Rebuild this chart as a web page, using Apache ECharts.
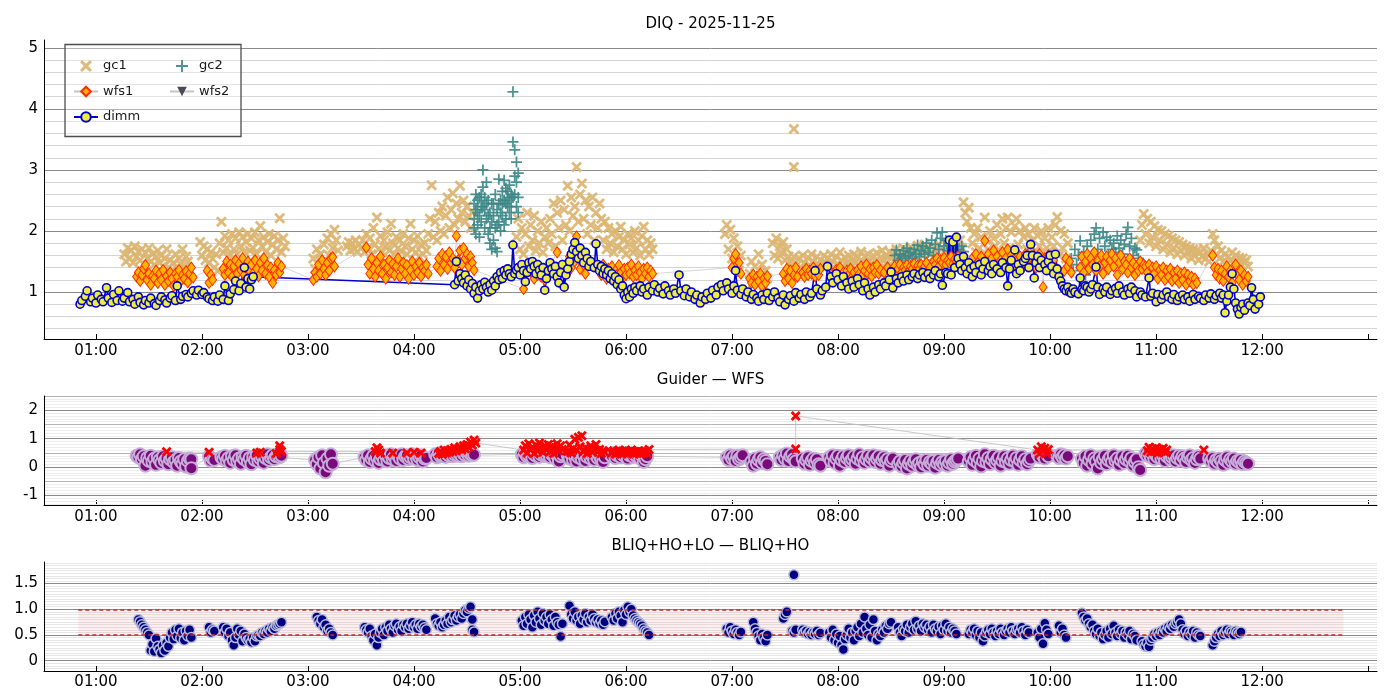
<!DOCTYPE html>
<html>
<head>
<meta charset="utf-8">
<title>DIQ - 2025-11-25</title>
<script src="https://cdn.jsdelivr.net/npm/echarts@6.0.0/dist/echarts.min.js"></script>
<style>
  html, body { margin: 0; padding: 0; background: #fff; }
  #chart { width: 1400px; height: 700px; }
</style>
</head>
<body>
<div id="chart"></div>
<script>
// Times are minutes after 00:00 UT.

var X_MIN = 30.6, X_MAX = 785;
var HOUR_TICKS = [60, 120, 180, 240, 300, 360, 420, 480, 540, 600, 660, 720, 780];
var HOUR_LABELS = [60, 120, 180, 240, 300, 360, 420, 480, 540, 600, 660, 720];

var DIQ_RANGE = [0.23, 5.13];
var GUIDE_RANGE = [-1.33, 2.5];
var BLIQ_RANGE = [-0.2, 1.92];
var BLIQ_BAND = [0.5, 1.0];
var BAND_SPAN = [50, 766];

var TITLES = ['DIQ - 2025-11-25', 'Guider \u2014 WFS', 'BLIQ+HO+LO \u2014 BLIQ+HO'];

var dimm = [
  [51,0.80],[52,0.86],[54,0.93],[55,1.02],[57,0.84],[58,0.90],[60,0.82],[61,0.95],[63,0.88],[64,0.84],
  [66,1.07],[67,0.90],[69,0.83],[70,0.96],[72,0.86],[73,1.02],[75,0.85],[76,0.90],[78,0.99],[79,0.84],
  [81,0.88],[82,0.80],[84,0.92],[85,0.83],[87,0.79],[88,0.86],[90,0.82],[91,0.90],[93,0.81],[94,0.78],
  [96,0.86],[97,0.92],[99,0.87],[100,0.82],[102,0.90],[103,0.94],[105,0.86],[106,1.10],[108,0.88],[109,0.93],
  [111,0.96],[112,0.92],[114,0.98],[115,1.02],[117,0.95],[118,1.03],[120,0.96],[121,0.99],[123,0.92],[124,0.89],
  [126,0.86],[127,0.92],[129,0.85],[130,0.95],[132,0.88],[133,1.10],[135,0.86],[136,0.97],[138,1.04],[139,1.18],
  [141,1.02],[142,1.14],[144,1.40],[145,1.08],[146,1.22],[147,1.05],[148,1.20],[149,1.25],
  [263,1.12],[264,1.50],[265,1.18],[266,1.30],[267,1.22],[268,1.15],[269,1.28],[270,1.10],[271,1.20],[272,1.05],
  [273,1.14],[274,0.98],[275,1.08],[276,0.90],[277,1.02],[278,1.12],[279,1.05],[280,1.16],[281,1.08],[282,1.00],
  [283,1.12],[284,1.03],[285,1.18],[286,1.10],[287,1.25],[288,1.20],[289,1.32],[290,1.22],[291,1.35],[292,1.28],
  [293,1.38],[294,1.30],[295,1.25],[296,1.77],[297,1.30],[298,1.36],[299,1.40],[300,1.28],[301,1.45],[302,1.35],
  [303,1.17],[304,1.32],[305,1.48],[306,1.38],[307,1.50],[308,1.42],[309,1.30],[310,1.45],[311,1.36],[312,1.28],
  [313,1.40],[314,1.03],[315,1.22],[316,1.35],[317,1.48],[318,1.38],[319,1.30],[320,1.42],[321,1.25],[322,1.15],
  [323,1.32],[324,1.45],[325,1.08],[326,1.28],[327,1.38],[328,1.50],[329,1.62],[330,1.70],[331,1.81],[332,1.66],
  [333,1.55],[334,1.72],[335,1.60],[336,1.48],[337,1.65],[338,1.55],[339,1.42],[340,1.50],[342,1.40],[343,1.79],
  [344,1.45],[345,1.35],[346,1.42],[347,1.30],[348,1.38],[349,1.28],[350,1.35],[351,1.22],[352,1.30],[353,1.18],
  [354,1.25],[355,1.12],[356,1.20],[357,1.05],[358,1.10],[359,0.95],[360,0.89],[361,1.00],[362,0.92],[363,1.05],
  [364,0.98],[365,1.08],[366,1.02],[368,1.10],[369,1.00],[370,1.05],[372,0.95],[373,1.08],[375,1.02],[376,1.12],
  [378,1.00],[379,1.06],[381,0.97],[382,1.10],[384,1.02],[385,0.95],[387,1.05],[388,0.98],[390,1.28],[391,1.02],
  [393,0.94],[394,1.05],[396,0.92],[397,1.00],[399,0.88],[400,0.95],[402,0.82],[403,0.92],[405,0.88],[406,0.98],
  [408,0.90],[409,1.03],[411,0.95],[412,1.08],[414,1.12],[415,1.02],[417,1.15],[418,1.05],[420,0.98],[421,1.10],
  [422,1.35],[423,1.03],[425,0.96],[426,1.05],[428,0.92],[429,1.00],[431,0.88],[432,0.96],[434,0.90],[435,0.85],
  [437,0.95],[438,0.88],[440,0.98],[441,0.86],[443,0.92],[444,1.00],[446,0.90],[447,0.84],[449,0.95],[450,0.79],
  [452,0.88],[453,0.94],[455,0.85],[456,0.99],[458,0.90],[459,0.96],[461,0.88],[462,1.00],[464,0.92],[465,0.98],
  [467,1.35],[468,1.05],[470,0.95],[471,1.02],[473,1.08],[474,1.42],[476,1.25],[477,1.15],[479,1.30],[480,1.20],
  [482,1.10],[483,1.25],[485,1.15],[486,1.05],[488,1.18],[489,1.08],[491,1.22],[492,1.12],[494,1.02],[495,1.15],
  [497,1.05],[498,0.95],[500,1.08],[501,1.00],[503,1.12],[504,1.05],[506,1.15],[507,1.10],[509,1.20],[510,1.33],
  [511,1.07],[513,1.22],[514,1.15],[516,1.25],[517,1.18],[519,1.28],[520,1.20],[522,1.25],[523,1.30],[525,1.22],
  [526,1.28],[528,1.32],[529,1.24],[531,1.30],[532,1.22],[534,1.28],[535,1.35],[537,1.25],[538,1.30],[539,1.11],
  [541,1.32],[542,1.30],[543,1.85],[544,1.28],[545,1.82],[546,1.40],[547,1.90],[548,1.55],[549,1.45],[550,1.35],
  [551,1.58],[552,1.40],[553,1.30],[554,1.48],[555,1.38],[556,1.25],[557,1.42],[558,1.32],[560,1.45],[561,1.28],
  [562,1.38],[563,1.50],[565,1.35],[566,1.42],[567,1.30],[568,1.45],[570,1.38],[572,1.32],[573,1.48],[575,1.40],
  [576,1.10],[577,1.38],[578,1.52],[580,1.69],[581,1.30],[582,1.45],[583,1.35],[585,1.50],[586,1.55],[587,1.60],
  [588,1.40],[589,1.78],[590,1.60],[591,1.23],[592,1.48],[593,1.58],[594,1.40],[595,1.52],[597,1.45],[598,1.35],
  [599,1.50],[600,1.60],[601,1.42],[602,1.30],[603,1.62],[604,1.38],[605,1.25],[606,1.18],[607,1.10],[608,1.05],
  [609,1.02],[610,1.08],[611,1.00],[612,0.98],[613,1.05],[614,1.00],[616,0.97],[617,1.23],[618,1.04],[619,1.02],
  [620,1.10],[621,1.08],[622,1.00],[623,1.05],[624,1.12],[626,1.41],[627,1.08],[628,0.96],[630,1.05],[631,1.00],
  [632,1.08],[634,0.96],[635,1.02],[637,1.06],[638,0.98],[639,1.10],[641,1.00],[642,0.95],[644,1.05],[645,0.98],
  [646,1.08],[648,1.02],[649,0.92],[651,1.00],[652,0.95],[654,0.92],[656,1.23],[657,0.93],[658,0.98],[660,0.84],
  [661,0.96],[663,0.88],[664,0.95],[666,1.00],[667,0.92],[669,0.88],[670,0.96],[672,0.86],[673,0.92],[675,0.95],
  [676,0.88],[678,0.92],[679,0.85],[681,0.96],[682,0.88],[684,0.93],[685,0.90],[687,0.86],[688,0.95],[690,0.90],
  [691,0.97],[693,0.88],[694,0.94],[696,0.98],[697,0.90],[698,0.95],[699,0.66],[700,0.85],[701,0.95],[702,1.08],
  [703,1.30],[704,1.05],[705,0.82],[706,0.72],[707,0.64],[708,0.75],[709,0.80],[710,0.70],[712,0.82],[713,0.78],
  [714,1.07],[715,0.88],[716,0.72],[718,0.80],[719,0.92]
];

var gc1 = [
  [76,1.62],[77,1.50],[78,1.72],[79,1.55],[80,1.68],[81,1.48],[82,1.75],[83,1.58],[84,1.66],[85,1.52],
  [86,1.70],[87,1.46],[88,1.64],[89,1.55],[90,1.72],[91,1.50],[92,1.62],[93,1.45],[94,1.58],[95,1.68],
  [96,1.48],[97,1.60],[98,1.42],[99,1.55],[100,1.70],[101,1.40],[102,1.52],[103,1.35],[104,1.48],[105,1.62],
  [106,1.38],[107,1.55],[108,1.45],[109,1.70],[110,1.40],[111,1.58],[112,1.50],
  [119,1.82],[120,1.60],[121,1.75],[122,1.52],[123,1.70],[124,1.48],[125,1.65],[126,1.55],[127,1.40],[128,1.62],
  [129,1.35],[130,1.80],[131,2.15],[132,1.65],[133,1.92],[134,1.72],[135,1.85],[136,1.60],[137,1.95],[138,1.70],
  [139,1.88],[140,1.62],[141,1.98],[142,1.75],[143,1.90],[144,1.65],[145,1.82],[146,1.95],[147,1.68],[148,1.88],
  [149,1.72],[150,1.98],[151,1.62],[152,1.85],[153,2.08],[154,1.75],[155,1.90],[156,1.65],[157,1.82],[158,1.95],
  [159,1.60],[160,1.78],[161,1.92],[162,1.70],[163,1.85],[164,2.21],[165,1.65],[166,1.88],[167,1.75],
  [183,1.55],[184,1.38],[185,1.70],[186,1.45],[187,1.62],[188,1.32],[189,1.78],[190,1.50],[191,1.88],[192,1.60],
  [193,1.95],[194,1.72],[195,2.02],[196,1.85],[197,1.68],
  [202,1.75],[203,1.82],[204,1.68],[205,1.80],[206,1.70],[207,1.85],[208,1.66],[209,1.78],[210,1.72],
  [211,1.85],[212,1.65],[213,1.95],[214,1.72],[215,1.88],[216,1.62],[217,2.05],[218,1.78],[219,2.22],[220,1.70],
  [221,1.92],[222,1.65],[223,1.85],[224,1.75],[225,1.98],[226,1.68],[227,2.12],[228,1.80],[229,1.62],[230,1.90],
  [231,1.72],[232,1.85],[233,1.66],[234,1.95],[235,1.75],[236,1.62],[237,1.88],[238,2.12],[239,1.70],[240,1.85],
  [241,1.65],[242,1.92],[243,1.58],[244,1.78],[245,1.62],[246,1.80],[247,1.68],
  [248,1.95],[249,2.20],[250,2.75],[251,1.90],[252,2.15],[253,1.85],[254,2.30],[255,2.00],[256,2.40],[257,1.95],
  [258,2.25],[259,2.55],[260,2.05],[261,2.35],[262,2.62],[263,2.10],[264,2.45],[265,2.20],[266,2.74],[267,2.30],
  [268,2.50],[269,2.15],[270,2.40],[271,2.25],[272,2.05],[273,2.30],
  [298,1.90],[299,2.20],[300,1.70],[301,2.05],[302,1.62],[303,1.95],[304,2.30],[305,1.75],[306,2.10],[307,1.85],
  [308,2.25],[309,1.68],[310,2.00],[311,1.80],[312,2.15],[313,1.65],[314,1.90],[315,2.05],
  [316,1.80],[317,2.20],[318,1.95],[319,2.45],[320,1.75],[321,2.30],[322,2.05],[323,2.50],[324,1.85],[325,2.35],
  [326,2.10],[327,2.74],[328,2.00],[329,2.55],[330,2.25],[331,2.40],[332,3.05],[333,2.15],[334,2.60],[335,2.78],
  [336,2.20],[337,2.50],[338,1.95],[339,2.40],[340,2.10],[341,2.55],[342,1.85],[343,2.30],[344,2.05],[345,2.45],
  [346,2.20],[347,1.85],[348,2.15],[349,1.70],[350,2.05],[351,1.80],[352,1.95],[353,1.65],[354,2.00],[355,1.75],
  [356,1.90],[357,2.07],[358,1.70],[359,1.85],[360,1.62],[361,1.95],[362,1.78],[363,1.88],[364,1.65],[365,2.00],
  [366,1.72],[367,1.85],[368,1.60],[369,1.92],[370,2.07],[371,1.70],[372,1.85],[373,1.62],[374,1.80],[375,1.70],
  [416,1.95],[417,2.10],[418,1.70],[419,2.02],[420,1.55],[421,1.88],[422,1.45],[423,1.75],[424,1.35],[425,1.60],
  [430,1.30],[431,1.50],[432,1.15],[433,1.42],[434,1.25],[435,1.62],[436,1.20],[437,1.45],[438,1.10],[439,1.35],
  [440,1.22],[443,1.80],[444,1.60],[445,1.88],[446,1.55],[447,1.75],[448,1.65],[449,1.82],[450,1.52],[451,1.70],
  [452,1.58],[453,1.50],[454,1.42],[455,1.58],[455,3.67],[455,3.05],[457,1.45],[458,1.55],[459,1.40],[460,1.60],
  [461,1.48],[462,1.38],[463,1.56],[464,1.44],[465,1.62],[466,1.50],[467,1.40],[468,1.58],[469,1.46],[470,1.52],
  [471,1.42],[472,1.60],[473,1.48],[474,1.55],[475,1.44],[476,1.62],[477,1.50],[478,1.40],[479,1.58],[480,1.46],
  [481,1.65],[482,1.52],[483,1.42],[484,1.56],[485,1.48],[486,1.60],[487,1.45],[488,1.52],[489,1.62],[490,1.48],
  [491,1.56],[492,1.44],[493,1.66],[494,1.50],[495,1.58],[496,1.46],[497,1.62],[498,1.52],[499,1.45],[500,1.60],
  [501,1.50],[502,1.64],[503,1.48],[504,1.56],[505,1.68],[506,1.52],[507,1.60],[508,1.50],[509,1.66],[510,1.55],
  [511,1.62],[512,1.52],[513,1.70],[514,1.58],[515,1.64],[516,1.54],[517,1.72],[518,1.60],[519,1.66],[520,1.56],
  [521,1.74],[522,1.62],[523,1.68],[524,1.58],[525,1.76],[526,1.64],[527,1.70],[528,1.60],[529,1.78],[530,1.66],
  [531,1.72],[532,1.62],[533,1.75],[534,1.58],[535,1.70],[536,1.64],[537,1.78],[538,1.60],[539,1.72],[540,1.66],
  [541,1.80],[542,1.62],[543,1.74],[544,1.68],[545,1.82],[546,1.65],[547,1.76],[548,1.70],[549,1.85],[550,1.72],
  [551,2.47],[552,2.30],[553,2.15],[554,2.38],[555,2.05],
  [556,1.80],[557,1.95],[558,1.65],[559,2.05],[560,1.72],[561,1.90],[562,1.60],[563,2.22],[564,1.85],[565,1.70],
  [566,2.00],[567,1.62],[568,1.88],[569,1.75],[570,2.10],[571,1.68],[572,1.95],[573,2.20],[574,1.80],[575,2.05],
  [576,2.22],[577,1.72],[578,1.98],[579,1.65],[580,2.08],[581,2.20],[582,1.78],[583,2.00],[584,1.62],[585,1.90],
  [586,2.05],[587,1.70],[588,1.95],[589,1.60],[590,1.85],[591,2.05],[592,1.68],[593,1.92],[594,1.75],[595,2.00],
  [596,1.62],[597,1.88],[598,1.72],[599,2.05],[600,1.65],[601,1.90],
  [602,1.75],[603,2.10],[604,2.23],[605,1.60],[606,2.00],[607,1.72],[608,1.95],[609,1.55],[610,1.80],
  [651,1.85],[652,2.10],[653,2.28],[654,1.95],[655,2.20],[656,1.80],[657,2.15],[658,1.90],[659,2.08],[660,1.75],
  [661,2.02],[662,1.85],[663,2.00],[664,1.70],[665,1.95],[666,1.78],[667,1.92],[668,1.65],[669,1.88],[670,1.72],
  [671,1.85],[672,1.62],[673,1.82],[674,1.68],[675,1.78],[676,1.60],[677,1.75],[678,1.65],[679,1.72],[680,1.55],
  [681,1.70],[682,1.60],[683,1.68],[684,1.52],[685,1.65],[686,1.58],[687,1.72],[688,1.55],[689,1.62],[690,1.50],
  [691,1.68],[692,1.95],[693,1.85],[694,1.62],[695,1.75],[696,1.55],[697,1.68],[698,1.50],[699,1.62],[700,1.48],
  [701,1.58],[702,1.52],[703,1.65],[704,1.45],[705,1.60],[706,1.50],[707,1.56],[708,1.45],[709,1.55],[710,1.48],
  [711,1.52],[712,1.42]
];

var gc2 = [
  [274,2.20],[274,2.45],[274,2.05],[275,1.95],[275,2.60],[275,2.35],[276,2.30],[276,2.10],[276,2.50],
  [277,2.55],[277,1.90],[277,2.25],[278,2.40],[278,2.15],[278,2.60],[279,3.00],[279,2.72],[279,2.40],
  [280,2.35],[280,2.05],[280,2.55],[281,2.80],[281,2.20],[281,2.45],[282,2.50],[282,1.95],[282,2.25],
  [283,2.30],[283,1.80],[283,2.05],[284,2.45],[284,1.70],[284,2.15],[285,2.25],[285,1.85],[285,2.45],
  [286,2.60],[286,1.72],[286,2.05],[287,2.35],[287,1.66],[287,2.10],[288,2.85],[288,2.15],[288,2.45],
  [289,2.50],[289,2.00],[289,2.30],[290,2.65],[290,2.25],[290,2.45],[291,2.83],[291,2.10],[291,2.50],
  [292,2.70],[292,2.20],[292,2.45],[293,2.55],[293,2.40],[293,2.65],[294,2.75],[294,2.30],[294,2.50],
  [295,2.60],[295,2.40],[295,2.20],[296,3.46],[296,4.28],[296,2.55],[297,3.33],[297,2.60],[297,2.90],
  [298,3.13],[298,2.80],[298,2.40],[299,2.55],[299,2.95],[299,2.30],
  [512,1.60],[513,1.69],[514,1.52],[515,1.62],[516,1.55],[517,1.68],[518,1.58],[519,1.72],[520,1.60],[521,1.65],
  [522,1.55],[523,1.70],[524,1.62],[525,1.77],[526,1.58],[527,1.68],[528,1.75],[529,1.62],[530,1.80],[531,1.65],
  [532,1.72],[533,1.85],[534,1.60],[535,1.78],[536,1.97],[537,1.70],[538,1.88],[539,1.98],[540,1.75],[541,1.85],
  [542,1.68],[543,1.80],[544,1.72],[545,1.62],[546,1.78],[547,1.65],[548,1.70],[549,1.60],[550,1.75],[551,1.66],
  [612,1.55],[613,1.35],[614,1.70],[615,1.45],[616,1.60],[617,1.84],[618,1.40],[619,1.65],[620,1.28],[621,1.75],
  [622,1.50],[623,1.85],[624,1.62],[625,1.95],[626,2.05],[627,1.70],[628,1.88],[629,1.55],[630,1.98],[631,1.75],
  [632,1.90],[633,1.60],[634,1.85],[635,1.70],[636,1.80],[637,1.65],[638,1.92],[639,1.72],[640,1.85],[641,1.62],
  [642,1.78],[643,1.95],[644,2.06],[645,1.75],[646,1.88],[647,1.60],[648,1.72],[649,1.69],[650,1.55]
];

var wfs1 = [
  [83,1.25],[84,1.32],[85,1.18],[86,1.28],[87,1.38],[88,1.44],[89,1.20],[90,1.30],[91,1.12],[92,1.26],
  [93,1.22],[94,1.35],[95,1.15],[96,1.30],[97,1.20],[98,1.36],[99,1.12],[100,1.26],[101,1.18],[102,1.32],
  [103,1.22],[104,1.10],[105,1.30],[106,1.25],[107,1.36],[108,1.18],[109,1.28],[110,1.22],[111,1.34],[112,1.16],
  [113,1.30],[114,1.40],[115,1.24],
  [123,1.35],[124,1.15],[125,1.28],[126,1.20],
  [132,1.38],[133,1.28],[134,1.50],[135,1.32],[136,1.45],[137,1.25],[138,1.42],[139,1.52],[140,1.30],[141,1.46],
  [142,1.36],[143,1.55],[144,1.28],[145,1.40],[146,1.50],[147,1.34],[148,1.45],[149,1.30],[150,1.52],[151,1.38],
  [152,1.26],[153,1.48],[154,1.35],[155,1.55],[156,1.30],[157,1.44],[158,1.25],[159,1.40],[160,1.15],[161,1.36],
  [162,1.28],[163,1.48],[164,1.32],[165,1.42],
  [183,1.20],[184,1.32],[185,1.25],[186,1.45],[187,1.30],[188,1.52],[189,1.38],[190,1.28],[191,1.48],[192,1.35],
  [193,1.55],[194,1.57],[195,1.42],
  [213,1.73],[214,1.45],[215,1.30],[216,1.55],[217,1.38],[218,1.25],[219,1.48],[220,1.35],[221,1.58],[222,1.30],
  [223,1.45],[224,1.22],[225,1.40],[226,1.52],[227,1.32],[228,1.46],[229,1.28],[230,1.42],[231,1.55],[232,1.25],
  [233,1.38],[234,1.48],[235,1.30],[236,1.44],[237,1.22],[238,1.36],[239,1.50],[240,1.28],[241,1.42],[242,1.32],
  [243,1.48],[244,1.26],[245,1.40],[246,1.35],[247,1.45],[248,1.30],
  [253,1.42],[254,1.55],[255,1.35],[256,1.62],[257,1.45],[258,1.58],[259,1.38],[260,1.65],[261,1.48],[262,1.55],
  [263,1.40],[264,1.92],[265,1.52],[266,1.68],[267,1.45],[268,1.72],[269,1.55],[270,1.62],[271,1.42],[272,1.58],
  [273,1.48],[274,1.36],
  [302,1.05],[307,1.30],[308,1.22],[309,1.38],[310,1.28],[311,1.40],[312,1.25],[313,1.35],[314,1.20],[315,1.32],
  [321,1.65],[326,1.45],[327,1.32],[328,1.58],[329,1.40],[330,1.68],[331,1.50],[332,1.91],[333,1.55],[334,1.38],
  [335,1.62],[336,1.45],[337,1.30],[338,1.52],
  [345,1.40],[346,1.28],[347,1.45],[348,1.32],[349,1.22],[350,1.38],[351,1.30],[352,1.42],[353,1.25],[354,1.35],
  [355,1.28],[356,1.44],[357,1.32],[358,1.22],[359,1.38],[360,1.28],[361,1.40],[362,1.30],[363,1.45],[364,1.25],
  [365,1.36],[366,1.28],[367,1.42],[368,1.32],[369,1.22],[370,1.38],[371,1.30],[372,1.40],[373,1.25],[374,1.35],
  [375,1.30],
  [420,1.40],[421,1.55],[422,1.62],[423,1.35],[424,1.48],[425,1.30],
  [430,1.22],[431,1.15],[432,1.28],[433,1.12],[434,1.25],[435,1.18],[436,1.30],[437,1.10],[438,1.22],[439,1.15],
  [440,1.26],
  [449,1.30],[450,1.18],[451,1.38],[452,1.22],[453,1.35],[454,1.15],[455,1.28],[456,1.40],[457,1.25],
  [460,1.32],[461,1.25],[462,1.38],[463,1.28],[464,1.35],[465,1.30],[466,1.40],[467,1.26],[468,1.34],[469,1.28],
  [470,1.38],[477,1.30],[478,1.22],[479,1.36],[480,1.26],[481,1.40],[482,1.24],[483,1.32],[484,1.20],[485,1.35],
  [486,1.28],[487,1.38],[488,1.25],[489,1.32],[490,1.22],[491,1.36],[492,1.30],[493,1.42],[494,1.28],[495,1.35],
  [496,1.45],[497,1.30],[498,1.38],[499,1.26],[500,1.40],[501,1.32],[502,1.44],[503,1.30],[504,1.36],[506,1.32],
  [508,1.40],[510,1.35],[512,1.42],[513,1.30],[514,1.38],[515,1.45],[516,1.32],[517,1.40],[518,1.36],[519,1.44],
  [520,1.34],[521,1.42],[522,1.38],[523,1.46],[524,1.35],[525,1.43],[526,1.38],[527,1.45],[528,1.36],[529,1.42],
  [530,1.48],[532,1.40],[534,1.50],[535,1.45],[536,1.55],[537,1.42],[538,1.52],[539,1.48],[540,1.56],[541,1.45],
  [542,1.52],[543,1.48],[544,1.58],[545,1.46],[546,1.54],[547,1.50],[548,1.58],[549,1.48],[550,1.55],[551,1.50],
  [555,1.45],[556,1.55],[557,1.40],[558,1.62],[559,1.48],[560,1.38],[561,1.58],[562,1.45],[563,1.84],[564,1.52],
  [565,1.62],[566,1.42],[567,1.55],[568,1.68],[569,1.45],[570,1.58],[571,1.38],[572,1.52],[573,1.65],[574,1.42],
  [575,1.56],[576,1.70],[577,1.48],[578,1.60],[579,1.40],[580,1.55],[581,1.65],[582,1.45],[583,1.58],[584,1.38],
  [585,1.52],[586,1.62],[587,1.42],[588,1.55],[589,1.68],[590,1.45],[591,1.58],[592,1.40],[593,1.52],[594,1.62],
  [595,1.45],[596,1.08],[597,1.55],[598,1.42],[599,1.60],[600,1.48],[601,1.38],[602,1.52],
  [608,1.35],[609,1.55],[610,1.42],[611,1.50],[612,1.32],
  [617,1.40],[618,1.58],[619,1.32],[620,1.50],[621,1.62],[622,1.38],[623,1.55],[624,1.45],[625,1.65],[626,1.35],
  [627,1.52],[628,1.42],[629,1.60],[630,1.30],[631,1.48],[632,1.58],[633,1.38],[634,1.52],[635,1.62],[636,1.42],
  [637,1.55],[638,1.28],[639,1.48],[640,1.60],[641,1.38],[642,1.50],[643,1.45],[644,1.32],[645,1.55],[646,1.40],
  [647,1.48],[648,1.28],[649,1.42],[650,1.35],[651,1.50],[652,1.38],[653,1.45],
  [654,1.42],[655,1.32],[656,1.45],[657,1.25],[658,1.40],[659,1.30],[660,1.42],[661,1.22],[662,1.36],[663,1.28],
  [664,1.40],[665,1.20],[666,1.35],[667,1.25],[668,1.38],[669,1.18],[670,1.32],[671,1.22],[672,1.35],[673,1.15],
  [674,1.30],[675,1.20],[676,1.32],[677,1.12],[678,1.28],[679,1.18],[680,1.25],[681,1.12],[682,1.22],[683,1.15],
  [692,1.60],[693,1.40],[694,1.28],[695,1.38],[696,1.22],[697,1.35],[698,1.18],[699,1.30],[700,1.42],[701,1.25],
  [702,1.35],[703,1.15],[704,1.32],[705,1.45],[706,1.28],[707,1.20],[708,1.35],[709,1.12],[710,1.28],[711,1.18],
  [712,1.25]
];

var wfs2 = [];

var guider = [
  [83,0.40],[84,0.35],[85,0.45],[86,0.28],[87,0.38],[88,0.05],[89,0.32],[90,0.22],[91,0.40],[92,0.18],
  [93,0.30],[94,0.08],[95,0.35],[96,0.25],[97,0.15],[98,0.38],[99,0.22],[100,0.30],[101,0.10],[102,0.28],
  [103,0.35],[104,0.18],[105,0.25],[106,0.05],[107,0.32],[108,0.20],[109,0.12],[110,0.28],[111,0.02],[112,0.22],
  [113,0.30],[114,0.28],[114,-0.04],
  [124,0.38],[125,0.22],[126,0.30],[127,0.25],
  [131,0.35],[132,0.28],[133,0.40],[134,0.22],[135,0.32],[136,0.15],[137,0.38],[138,0.25],[139,0.42],[140,0.20],
  [141,0.30],[142,0.12],[143,0.35],[144,0.28],[145,0.40],[146,0.18],[147,0.32],[148,0.10],[149,0.36],[150,0.25],
  [151,0.42],[152,0.20],[153,0.30],[154,0.38],[155,0.15],[156,0.32],[157,0.45],[158,0.25],[159,0.35],[160,0.42],
  [161,0.28],[162,0.38],[163,0.45],[164,0.35],[165,0.40],
  [184,0.25],[185,0.10],[186,0.35],[187,-0.05],[188,0.42],[189,0.15],[190,-0.18],[191,0.30],[192,0.05],[193,0.45],
  [194,0.12],
  [212,0.35],[213,0.25],[214,0.42],[215,0.18],[216,0.30],[217,0.40],[218,0.22],[219,0.35],[220,0.15],[221,0.28],
  [222,0.38],[223,0.25],[224,0.42],[225,0.20],[226,0.32],[227,0.45],[228,0.28],[229,0.36],[230,0.22],[231,0.40],
  [232,0.30],[233,0.45],[234,0.25],[235,0.38],[236,0.42],[237,0.28],[238,0.35],[239,0.45],[240,0.30],[241,0.40],
  [242,0.25],[243,0.35],[244,0.42],[245,0.20],[246,0.30],[247,0.32],
  [252,0.45],[253,0.35],[254,0.48],[255,0.38],[256,0.42],[257,0.50],[258,0.36],[259,0.45],[260,0.40],[261,0.48],
  [262,0.38],[263,0.44],[264,0.50],[265,0.40],[266,0.46],[267,0.38],[268,0.48],[269,0.42],[270,0.50],[271,0.40],
  [272,0.46],[273,0.42],[274,0.44],
  [301,0.45],[302,0.35],[303,0.48],[304,0.38],[305,0.42],[306,0.50],[307,0.32],[308,0.45],[309,0.40],[310,0.48],
  [311,0.36],[312,0.44],[313,0.50],[314,0.38],[315,0.42],[316,0.48],[317,0.35],[318,0.45],[319,0.40],[320,0.30],
  [321,0.42],[322,0.20],[323,0.38],[324,0.45],
  [327,0.42],[328,0.30],[329,0.45],[330,0.25],[331,0.38],[332,0.20],[333,0.35],[334,0.42],[335,0.28],[336,0.40],
  [337,0.22],[338,0.36],[339,0.45],[340,0.30],[341,0.38],[342,0.25],[343,0.42],[344,0.32],[345,0.40],[346,0.28],
  [347,0.18],[348,0.35],
  [351,0.45],[352,0.38],[353,0.50],[354,0.32],[355,0.42],[356,0.48],[357,0.35],[358,0.45],[359,0.40],[360,0.50],
  [361,0.30],[362,0.42],[363,0.48],[364,0.36],[365,0.44],[366,0.38],[367,0.46],[368,0.30],[369,0.40],[370,0.18],
  [371,0.28],[372,0.38],
  [417,0.35],[418,0.25],[419,0.42],[420,0.30],[421,0.38],[422,0.22],[423,0.40],[424,0.28],[425,0.35],[426,0.42],
  [431,0.20],[432,0.05],[433,0.30],[434,0.12],[435,0.25],[436,0.35],[437,0.15],[438,0.28],[439,0.22],[440,0.10],
  [447,0.35],[448,0.25],[449,0.42],[450,0.30],[451,0.48],[452,0.22],[453,0.38],[454,0.45],[455,0.28],[456,0.20],
  [460,0.30],[461,0.12],[462,0.25],[463,0.35],[464,0.08],[465,0.22],[466,0.30],[467,0.15],[468,0.28],[469,0.10],
  [470,0.05],
  [475,0.35],[476,0.22],[477,0.42],[478,0.15],[479,0.30],[480,0.40],[481,0.05],[482,0.25],[483,0.38],[484,0.18],
  [485,0.32],[486,0.42],[487,0.20],[488,0.28],[489,0.38],[490,0.12],[491,0.30],[492,0.45],[493,0.22],[494,0.35],
  [495,0.15],[496,0.28],[497,0.40],[498,0.20],[499,0.32],[500,0.42],[501,0.18],[502,0.30],[503,0.38],[504,0.12],
  [505,0.25],[506,0.35],[507,0.20],[508,0.28],[509,0.05],[510,0.22],[511,0.30],
  [514,0.10],[515,0.20],[516,0.02],[517,0.15],[518,0.25],[519,-0.05],[520,0.12],[521,0.22],[522,0.05],[523,0.18],
  [524,0.28],[525,0.08],[526,0.15],[527,0.00],[528,0.20],[529,0.10],[530,0.25],[531,0.05],[532,0.18],[533,0.12],
  [534,0.22],[535,-0.02],[536,0.15],[537,0.25],[538,0.08],[539,0.18],[540,0.10],[541,0.22],[542,0.05],[543,0.15],
  [544,0.28],[545,0.12],[546,0.20],[547,0.25],[548,0.30],
  [554,0.20],[555,0.35],[556,0.08],[557,0.25],[558,0.40],[559,0.15],[560,0.30],[561,0.02],[562,0.22],[563,0.45],
  [564,0.18],[565,0.32],[566,0.10],[567,0.28],[568,0.40],[569,0.15],[570,0.25],[571,0.35],[572,0.05],[573,0.22],
  [574,0.38],[575,0.18],[576,0.30],[577,0.12],[578,0.25],[579,0.40],[580,0.20],[581,0.32],[582,0.08],[583,0.25],
  [584,0.38],[585,0.15],[586,0.28],[587,0.10],[588,0.22],[589,0.30],
  [593,0.45],[594,0.35],[595,0.52],[596,0.40],[597,0.30],[598,0.48],[599,0.38],
  [604,0.40],[605,0.32],[606,0.45],[607,0.35],[608,0.42],[609,0.30],[610,0.38],
  [618,0.30],[619,0.15],[620,0.38],[621,0.05],[622,0.25],[623,0.42],[624,0.12],[625,0.30],[626,0.20],[627,-0.05],
  [628,0.35],[629,0.15],[630,0.28],[631,0.40],[632,0.10],[633,0.25],[634,0.35],[635,0.18],[636,0.42],[637,0.22],
  [638,0.30],[639,0.08],[640,0.25],[641,0.38],[642,0.15],[643,0.28],[644,0.40],[645,0.20],[646,0.32],[647,0.05],
  [648,0.18],[649,0.28],[650,0.00],[651,-0.10],
  [654,0.48],[655,0.40],[656,0.50],[657,0.35],[658,0.45],[659,0.28],[660,0.42],[661,0.35],[662,0.48],[663,0.30],
  [664,0.40],[665,0.22],[666,0.38],[667,0.45],[668,0.28],[669,0.35],[670,0.42],[671,0.20],[672,0.32],[673,0.40],
  [674,0.25],[675,0.38],[676,0.30],[677,0.18],[678,0.35],[679,0.42],[680,0.25],[681,0.32],[682,0.15],[683,0.28],
  [684,0.38],[685,0.30],
  [690,0.30],[691,0.20],[692,0.32],[693,0.12],[694,0.25],[695,0.18],[696,0.30],[697,0.22],[698,0.08],[699,0.25],
  [700,0.35],[701,0.15],[702,0.28],[703,0.20],[704,0.30],[705,0.12],[706,0.22],[707,0.18],[708,0.25],[709,0.10],
  [710,0.20],[711,0.15],[712,0.12]
];

var wfs = [
  [100,0.54],[124,0.52],[151,0.50],[153,0.52],[162,0.48],[164,0.62],[164,0.75],[165,0.55],
  [218,0.55],[219,0.68],[220,0.60],[221,0.50],[228,0.50],[236,0.50],[240,0.52],[244,0.50],
  [254,0.48],[255,0.55],[256,0.45],[257,0.60],[258,0.50],[259,0.58],[260,0.52],[261,0.62],[262,0.55],[263,0.68],
  [264,0.58],[265,0.65],[266,0.72],[267,0.60],[268,0.75],[269,0.65],[270,0.80],[271,0.70],[272,0.88],[273,0.78],
  [274,0.95],[275,0.85],
  [302,0.60],[303,0.75],[304,0.50],[305,0.82],[306,0.62],[307,0.70],[308,0.48],[309,0.78],[310,0.58],[311,0.85],
  [312,0.65],[313,0.52],[314,0.75],[315,0.60],[316,0.80],[317,0.55],[318,0.72],[319,0.48],[320,0.68],[321,0.82],
  [322,0.58],[323,0.75],[324,0.62],
  [327,0.55],[328,0.78],[329,0.50],[330,0.65],[331,0.98],[332,0.60],[333,1.05],[334,0.72],[335,1.10],[336,0.55],
  [337,0.68],[338,0.48],[339,0.62],[340,0.75],[341,0.52],[342,0.65],[343,0.80],[344,0.55],[345,0.62],[346,0.48],
  [347,0.58],[348,0.52],
  [352,0.50],[353,0.58],[354,0.46],[355,0.55],[356,0.60],[357,0.48],[358,0.56],[359,0.50],[360,0.58],[361,0.46],
  [362,0.54],[363,0.60],[364,0.48],[365,0.55],[366,0.50],[367,0.58],[368,0.46],[369,0.54],[370,0.50],[371,0.56],
  [372,0.48],[373,0.62],
  [456,0.64],[456,1.80],
  [593,0.60],[594,0.48],[595,0.72],[596,0.55],[597,0.66],[598,0.50],[599,0.62],
  [655,0.58],[656,0.70],[657,0.52],[658,0.65],[659,0.55],[660,0.68],[661,0.50],[662,0.62],[663,0.56],[664,0.66],
  [665,0.52],[666,0.60],
  [687,0.60]
];

var bliq = [
  [84,0.80],[85,0.76],[86,0.70],[87,0.65],[88,0.60],[89,0.55],[90,0.50],[91,0.20],[92,0.32],[93,0.18],
  [94,0.43],[95,0.28],[96,0.22],[97,0.15],[98,0.30],[99,0.20],[100,0.35],[101,0.28],[102,0.45],[103,0.55],
  [104,0.42],[105,0.60],[106,0.48],[107,0.62],[108,0.44],[109,0.55],[110,0.40],[111,0.58],[112,0.48],[113,0.60],
  [114,0.45],
  [124,0.65],[125,0.55],[126,0.60],[127,0.58],
  [132,0.65],[133,0.55],[134,0.62],[135,0.48],[136,0.55],[137,0.40],[138,0.30],[139,0.45],[140,0.62],[141,0.50],
  [142,0.58],[143,0.38],[144,0.52],[145,0.45],[146,0.40],[147,0.42],[148,0.36],[149,0.45],[150,0.38],[151,0.48],
  [152,0.50],[153,0.48],[154,0.55],[155,0.52],[156,0.58],[157,0.55],[158,0.62],[159,0.58],[160,0.65],[161,0.62],
  [162,0.68],[163,0.70],[164,0.72],[165,0.75],
  [185,0.85],[186,0.78],[187,0.72],[188,0.80],[189,0.65],[190,0.70],[191,0.58],[192,0.62],[193,0.55],[194,0.50],
  [212,0.65],[213,0.60],[214,0.55],[215,0.62],[216,0.48],[217,0.40],[218,0.52],[219,0.30],[220,0.45],
  [221,0.55],[222,0.62],[223,0.50],[224,0.65],[225,0.58],[226,0.70],[227,0.62],[228,0.55],[229,0.68],[230,0.72],
  [231,0.60],[232,0.66],[233,0.58],[234,0.70],[235,0.65],[236,0.72],[237,0.62],[238,0.68],[239,0.75],[240,0.65],
  [241,0.70],[242,0.62],[243,0.72],[244,0.66],[245,0.70],[246,0.64],[247,0.60],
  [252,0.82],[253,0.72],[254,0.68],[255,0.75],[256,0.65],[257,0.70],[258,0.78],[259,0.72],[260,0.85],[261,0.75],
  [262,0.80],[263,0.88],[264,0.78],[265,0.85],[266,0.90],[267,0.82],[268,0.92],[269,0.98],[270,0.95],[271,1.02],
  [272,1.05],[273,0.80],[273,0.60],[274,0.56],
  [301,0.78],[302,0.68],[303,0.85],[304,0.72],[305,0.90],[306,0.80],[307,0.65],[308,0.88],[309,0.75],[310,0.95],
  [311,0.82],[312,0.70],[313,0.92],[314,0.78],[315,0.85],[316,0.72],[317,0.90],[318,0.80],[319,0.68],[320,0.85],
  [321,0.75],[322,0.70],[323,0.47],[324,0.72],
  [328,1.07],[329,0.90],[330,0.82],[331,0.95],[332,0.78],[333,0.85],[334,0.72],[335,0.88],[336,0.80],[337,0.92],
  [338,0.75],[339,0.85],[340,0.78],[341,0.90],[342,0.82],[343,0.75],[344,0.80],[345,0.72],[346,0.78],[347,0.70],
  [348,0.76],
  [352,0.85],[353,0.78],[354,0.92],[355,0.82],[356,0.95],[357,0.88],[358,0.75],[359,0.98],[360,0.90],[361,1.05],
  [362,0.95],[363,1.00],[364,0.88],[365,0.82],[366,0.78],[367,0.75],[368,0.72],[369,0.68],[370,0.62],[371,0.58],
  [372,0.55],[373,0.50],
  [417,0.62],[418,0.55],[419,0.65],[420,0.58],[421,0.52],[422,0.60],[423,0.55],[424,0.50],[425,0.56],
  [432,0.75],[433,0.62],[434,0.55],[435,0.48],[436,0.40],[437,0.52],[438,0.45],[439,0.38],[440,0.50],
  [449,0.82],[450,0.90],[451,0.95],[454,0.58],[455,1.67],[455,0.55],[456,0.60],
  [460,0.60],[461,0.55],[462,0.58],[463,0.52],[464,0.56],[465,0.50],[466,0.55],[467,0.52],[468,0.58],[469,0.50],
  [470,0.54],
  [475,0.55],[476,0.45],[477,0.60],[478,0.40],[479,0.52],[480,0.35],[481,0.48],[482,0.30],[483,0.22],[484,0.42],
  [485,0.50],[486,0.62],[487,0.45],[488,0.55],[489,0.40],[490,0.58],[491,0.65],[492,0.48],[493,0.72],[494,0.55],
  [495,0.85],[496,0.62],[497,0.50],[498,0.70],[499,0.45],[500,0.80],[501,0.58],[502,0.40],[503,0.52],[504,0.48],
  [505,0.60],[506,0.55],[507,0.68],[508,0.62],[509,0.72],[510,0.75],
  [514,0.65],[515,0.55],[516,0.48],[517,0.62],[518,0.58],[519,0.70],[520,0.55],[521,0.65],[522,0.72],[523,0.60],
  [524,0.77],[525,0.62],[526,0.68],[527,0.58],[528,0.72],[529,0.65],[530,0.70],[531,0.60],[532,0.66],[533,0.55],
  [534,0.70],[535,0.62],[536,0.58],[537,0.66],[538,0.52],[539,0.68],[540,0.60],[541,0.72],[542,0.58],[543,0.65],
  [544,0.55],[545,0.62],[546,0.58],[547,0.52],
  [554,0.52],[555,0.60],[556,0.55],[557,0.62],[558,0.50],[559,0.58],[560,0.45],[561,0.55],[562,0.38],[563,0.48],
  [564,0.55],[565,0.60],[566,0.52],[567,0.62],[568,0.55],[569,0.48],[570,0.58],[571,0.52],[572,0.62],[573,0.55],
  [574,0.50],[575,0.58],[576,0.62],[577,0.55],[578,0.65],[579,0.58],[580,0.52],[581,0.60],[582,0.62],[583,0.55],
  [584,0.65],[585,0.58],[586,0.50],[587,0.60],[588,0.55],
  [593,0.55],[594,0.45],[595,0.62],[596,0.33],[597,0.73],[598,0.60],[599,0.52],
  [605,0.68],[606,0.55],[607,0.62],[608,0.50],[609,0.45],
  [618,0.93],[619,0.85],[620,0.78],[621,0.82],[622,0.72],[623,0.65],[624,0.70],[625,0.58],[626,0.52],[627,0.62],
  [628,0.48],[629,0.55],[630,0.42],[631,0.50],[632,0.58],[633,0.45],[634,0.62],[635,0.52],[636,0.68],[637,0.55],
  [638,0.48],[639,0.60],[640,0.52],[641,0.58],[642,0.45],[643,0.55],[644,0.50],[645,0.58],[646,0.42],[647,0.52],
  [648,0.48],[649,0.40],
  [652,0.38],[653,0.32],[654,0.28],[655,0.35],[656,0.27],[657,0.40],
  [658,0.45],[659,0.52],[660,0.48],[661,0.55],[662,0.50],[663,0.58],[664,0.55],[665,0.62],[666,0.58],[667,0.66],
  [668,0.62],[669,0.70],[670,0.66],[671,0.72],[672,0.75],[673,0.80],[674,0.72],
  [675,0.60],[676,0.52],[677,0.58],[678,0.48],[679,0.55],[680,0.50],[681,0.58],[682,0.45],[683,0.55],[684,0.50],
  [685,0.48],
  [692,0.30],[693,0.38],[694,0.45],[695,0.52],[696,0.48],[697,0.58],[698,0.50],[699,0.55],[700,0.60],[701,0.52],
  [702,0.58],[703,0.55],[704,0.50],[705,0.58],[706,0.55],[707,0.52],[708,0.56]
];

// ---------------------------------------------------------------------------
// Marker shapes (matplotlib-like x, bold x, + and down triangle)

var X_PATH = 'path://M1.8,0 L5,3.2 L8.2,0 L10,1.8 L6.8,5 L10,8.2 L8.2,10 L5,6.8 L1.8,10 L0,8.2 L3.2,5 L0,1.8 Z';
var X_BOLD = 'path://M2,0 L5,3 L8,0 L10,2 L7,5 L10,8 L8,10 L5,7 L2,10 L0,8 L3,5 L0,2 Z';
var PLUS_PATH = 'path://M4.2,0 H5.8 V4.2 H10 V5.8 H5.8 V10 H4.2 V5.8 H0 V4.2 H4.2 Z';
var TRI_DOWN = 'path://M0,0 L10,0 L5,9 Z';

var FONT = 'DejaVu Sans';

function hhmm(v) {
  var h = Math.floor(v / 60), m = Math.round(v - h * 60);
  return ('0' + h).slice(-2) + ':' + ('0' + m).slice(-2);
}

function xAxisFor(grid, margin) {
  return {
    type: 'value', gridIndex: grid, min: X_MIN, max: X_MAX,
    axisLine: { show: true, onZero: false, lineStyle: { color: '#000', width: 1 } },
    axisTick: { show: true, inside: true, length: 5, customValues: HOUR_TICKS, lineStyle: { color: '#000' } },
    axisLabel: { customValues: HOUR_LABELS, formatter: hhmm, margin: margin,
      fontFamily: FONT, fontSize: 15, color: '#000' },
    splitLine: { show: false }
  };
}

function yAxisFor(grid, range, opts) {
  var ax = {
    type: 'value', gridIndex: grid, min: range[0], max: range[1], position: 'left',
    splitNumber: opts.splitNumber || 5,
    axisLine: { show: opts.line !== false, onZero: false, lineStyle: { color: '#000', width: 1 } },
    axisTick: { show: false },
    axisLabel: { show: opts.labels !== false, showMinLabel: false, showMaxLabel: false,
      margin: 6, fontFamily: FONT, fontSize: 15, color: '#000', formatter: opts.formatter },
    splitLine: { show: true, showMinLine: false, showMaxLine: !!opts.maxLine,
      lineStyle: { color: opts.major || '#8a8a8a', width: 1 } },
    z: opts.z || 0
  };
  if (opts.minor) {
    ax.minorTick = { show: false, splitNumber: opts.minor };
    ax.minorSplitLine = { show: true, lineStyle: { color: opts.minorColor || '#d6d6d6', width: 1 } };
  }
  return ax;
}

var chart = echarts.init(document.getElementById('chart'), null, { renderer: 'canvas' });

var option = {
  backgroundColor: '#fff',
  animation: false,
  textStyle: { fontFamily: FONT },
  title: TITLES.map(function (t, i) {
    return {
      text: t, left: 710.5, textAlign: 'center', top: [17, 373, 539][i], padding: 0,
      textStyle: { fontFamily: FONT, fontSize: 15, fontWeight: 'normal', color: '#000' }
    };
  }),
  grid: [
    { left: 44, top: 40, width: 1333, height: 299, outerBoundsMode: 'none' },
    { left: 44, top: 396, width: 1333, height: 109, outerBoundsMode: 'none' },
    { left: 44, top: 562, width: 1333, height: 109, outerBoundsMode: 'none' }
  ],
  legend: [
    {
      data: [{ name: 'gc1', icon: X_PATH }, 'wfs1', 'dimm'],
      orient: 'vertical', left: 73, top: 59, padding: 0,
      itemWidth: 24, itemHeight: 12, itemGap: 11.5, selectedMode: false,
      textStyle: { fontFamily: FONT, fontSize: 13, color: '#1a1a1a', lineHeight: 14 }
    },
    {
      data: [{ name: 'gc2', icon: PLUS_PATH }, 'wfs2'],
      orient: 'vertical', left: 169, top: 59, padding: 0,
      itemWidth: 24, itemHeight: 12, itemGap: 11.5, selectedMode: false,
      textStyle: { fontFamily: FONT, fontSize: 13, color: '#1a1a1a', lineHeight: 14 }
    }
  ],
  graphic: [{
    type: 'rect', z: 3, silent: true,
    shape: { x: 65, y: 44.5, width: 176, height: 92 },
    style: { fill: 'rgba(255,255,255,0.35)', stroke: '#4d4d4d', lineWidth: 1.3 }
  }],
  xAxis: [xAxisFor(0, 5), xAxisFor(1, 5), xAxisFor(2, 4)],
  yAxis: [
    yAxisFor(0, DIQ_RANGE, { minor: 5, minorColor: '#d4d4d4' }),
    yAxisFor(1, GUIDE_RANGE, { z: 2 }),
    yAxisFor(1, GUIDE_RANGE, { splitNumber: 8, labels: false, line: false, major: '#b4b4b4',
      minor: 5, minorColor: '#ededed', maxLine: true, z: 1 }),
    yAxisFor(2, BLIQ_RANGE, { minor: 10, minorColor: '#e6e6e6',
      formatter: function (v) { return v === 0 ? '0' : v.toFixed(1); } })
  ],
  series: [
    {
      name: 'gc1', type: 'scatter', xAxisIndex: 0, yAxisIndex: 0, data: gc1,
      symbol: X_PATH, symbolSize: 11, silent: true,
      itemStyle: { color: '#dbb571', opacity: 0.92 }
    },
    {
      name: 'gc2', type: 'scatter', xAxisIndex: 0, yAxisIndex: 0, data: gc2,
      symbol: PLUS_PATH, symbolSize: 11, silent: true,
      itemStyle: { color: '#3a8686', opacity: 0.9 }
    },
    {
      name: 'wfs1', type: 'line', xAxisIndex: 0, yAxisIndex: 0, data: wfs1,
      symbol: 'diamond', symbolSize: [8, 11], showSymbol: true, silent: true,
      itemStyle: { color: '#ffb400', borderColor: '#ff2a00', borderWidth: 1 },
      lineStyle: { color: '#c4c4c4', width: 0.7 }
    },
    {
      name: 'wfs2', type: 'line', xAxisIndex: 0, yAxisIndex: 0, data: wfs2,
      symbol: TRI_DOWN, symbolSize: 9, silent: true,
      itemStyle: { color: '#4a4a58' }, lineStyle: { color: '#c4c4c4', width: 0.7 }
    },
    {
      name: 'dimm', type: 'line', xAxisIndex: 0, yAxisIndex: 0, data: dimm,
      symbol: 'circle', symbolSize: 8, showSymbol: true, silent: true,
      itemStyle: { color: '#eded3c', borderColor: '#0000cc', borderWidth: 1.6 },
      lineStyle: { color: '#0000cc', width: 1.6 }
    },
    {
      name: 'guider', type: 'line', xAxisIndex: 1, yAxisIndex: 1, data: guider,
      symbol: 'circle', symbolSize: 12, showSymbol: true, silent: true,
      itemStyle: { color: '#7a0a7a', borderColor: '#c6acd8', borderWidth: 2 },
      lineStyle: { color: '#bdbdbd', width: 0.8 }
    },
    {
      name: 'wfs', type: 'line', xAxisIndex: 1, yAxisIndex: 1, data: wfs,
      symbol: X_BOLD, symbolSize: 10, showSymbol: true, silent: true,
      itemStyle: { color: '#ff0000' },
      lineStyle: { color: '#bdbdbd', width: 0.8 }
    },
    {
      name: 'bliq', type: 'scatter', xAxisIndex: 2, yAxisIndex: 3, data: bliq,
      symbol: 'circle', symbolSize: 10, silent: true,
      itemStyle: { color: '#000080', borderColor: '#b9bddb', borderWidth: 1.5, opacity: 1 },
      markArea: {
        silent: true,
        itemStyle: { color: 'rgba(240,120,120,0.12)' },
        data: [[{ coord: [BAND_SPAN[0], BLIQ_BAND[0]] }, { coord: [BAND_SPAN[1], BLIQ_BAND[1]] }]]
      },
      markLine: {
        silent: true, symbol: ['none', 'none'], label: { show: false },
        lineStyle: { color: '#c62828', type: [4, 3], width: 1.5, opacity: 1 },
        data: BLIQ_BAND.map(function (v) {
          return [{ coord: [BAND_SPAN[0], v] }, { coord: [BAND_SPAN[1], v] }];
        })
      }
    }
  ]
};

chart.setOption(option);
</script>
</body>
</html>
